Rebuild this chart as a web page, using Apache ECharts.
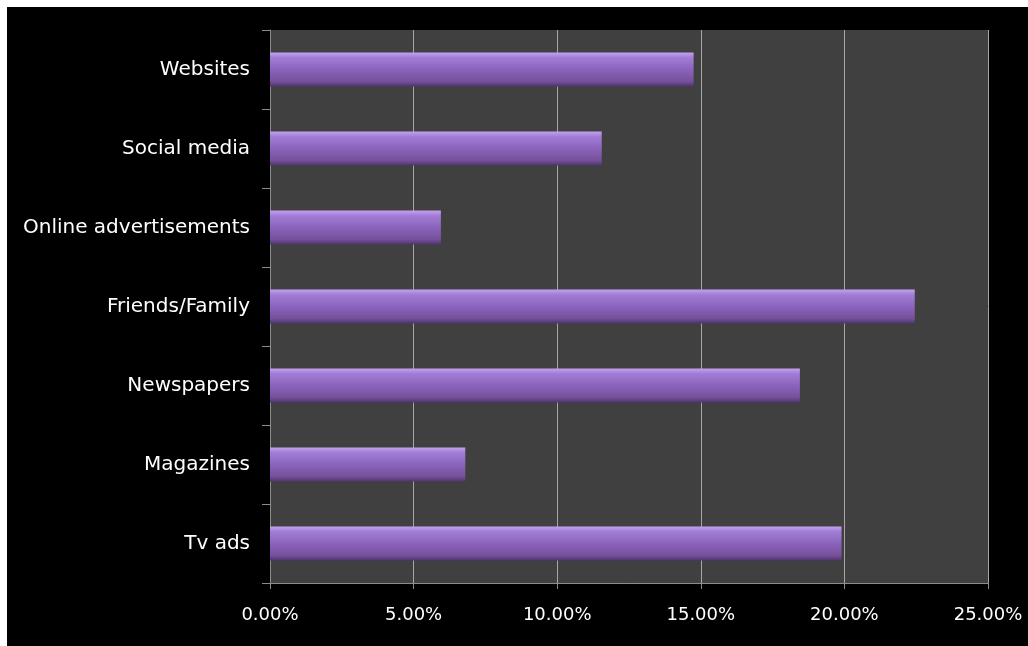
<!DOCTYPE html>
<html>
<head>
<meta charset="utf-8">
<script src="https://cdn.jsdelivr.net/npm/echarts@6/dist/echarts.min.js"></script>
<style>
	html, body { margin: 0; padding: 0; background: #fff; }
	#chart { position: absolute; left: 7px; top: 7px; width: 1021px; height: 639px; }
</style>
</head>
<body>
<div id="chart"></div>
<script>
// 类目（自下而上）
var categories = ['Tv ads', 'Magazines', 'Newspapers', 'Friends/Family', 'Online advertisements', 'Social media', 'Websites'];
// 百分比数值
var shares = [19.9, 6.8, 18.45, 22.45, 5.95, 11.55, 14.75];
// x 轴刻度
var xTicks = [0, 5, 10, 15, 20, 25];

var chart = echarts.init(document.getElementById('chart'));

var option = {
	backgroundColor: '#000',
	animation: false,
	grid: {
		left: 263,
		top: 23,
		right: 40,
		bottom: 63,
		show: true,
		backgroundColor: '#404040',
		borderWidth: 0
	},
	xAxis: {
		type: 'value',
		min: xTicks[0],
		max: xTicks[xTicks.length - 1],
		interval: 5,
		axisLine: { show: true, lineStyle: { color: '#8c8c8c', width: 1 } },
		axisTick: { show: true, length: 6, lineStyle: { color: '#8c8c8c' } },
		splitLine: { show: true, lineStyle: { color: '#a6a6a6', width: 1 } },
		axisLabel: {
			color: '#fff',
			fontFamily: 'DejaVu Sans',
			fontSize: 18,
			margin: 23,
			formatter: function(v) { return v.toFixed(2) + '%'; }
		}
	},
	yAxis: {
		type: 'category',
		data: categories,
		axisLine: { show: true, lineStyle: { color: '#8c8c8c', width: 1 } },
		axisTick: { show: true, length: 8, lineStyle: { color: '#8c8c8c' } },
		axisLabel: {
			color: '#fff',
			fontFamily: 'DejaVu Sans',
			fontSize: 20,
			margin: 20
		}
	},
	series: [{
		type: 'bar',
		data: shares,
		barWidth: '43%',
		itemStyle: {
			color: new echarts.graphic.LinearGradient(0, 0, 0, 1, [
				{ offset: 0, color: '#c4a2ee' },
				{ offset: 0.15, color: '#a27dd6' },
				{ offset: 0.5, color: '#8b63bd' },
				{ offset: 0.85, color: '#765099' },
				{ offset: 1, color: '#4f3570' }
			])
		}
	}]
};

chart.setOption(option);
</script>
</body>
</html>
